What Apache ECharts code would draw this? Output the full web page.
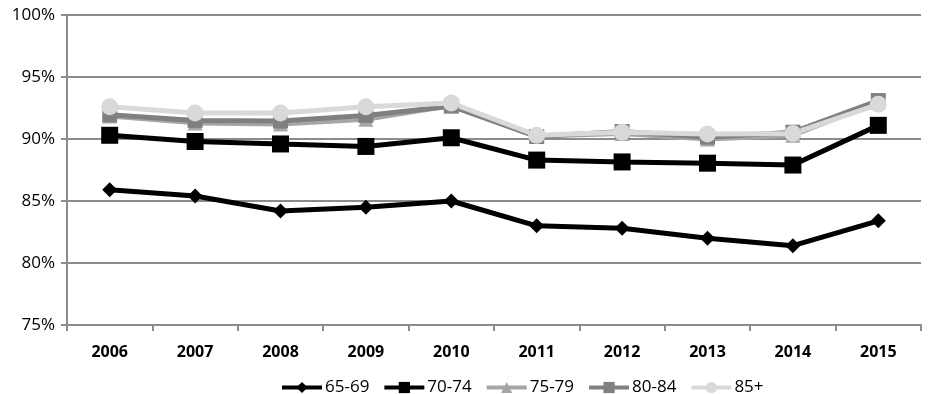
<!DOCTYPE html>
<html><head><meta charset="utf-8">
<script src="https://cdn.jsdelivr.net/npm/echarts@6/dist/echarts.min.js"></script>
<style>html,body{margin:0;padding:0;background:#fff}#c{width:942px;height:394px}</style>
</head><body><div id="c"></div>
<script>
const years = ['2006','2007','2008','2009','2010','2011','2012','2013','2014','2015'];
const yTicks = [75, 80, 85, 90, 95, 100];
const s6569 = [85.9, 85.4, 84.2, 84.5, 85.0, 83.0, 82.8, 82.0, 81.4, 83.4];
const s7074 = [90.3, 89.8, 89.6, 89.4, 90.1, 88.3, 88.15, 88.05, 87.9, 91.1];
const s7579 = [91.85, 91.3, 91.2, 91.6, 92.7, 90.25, 90.45, 90.0, 90.3, 93.0];
const s8084 = [91.95, 91.5, 91.45, 91.9, 92.65, 90.2, 90.6, 90.15, 90.55, 93.1];
const s85 = [92.6, 92.1, 92.1, 92.6, 92.9, 90.3, 90.55, 90.4, 90.45, 92.8];
const names = ['65-69','70-74','75-79','80-84','85+'];

const font = '"Open Sans", "Liberation Sans", sans-serif';
const chart = echarts.init(document.getElementById('c'));
function ser(name, data, color, symbol, size) {
  return {name, type:'line', data, symbol, symbolSize:size,
    lineStyle:{color, width:5}, itemStyle:{color, borderWidth:0}, z: 2,
    emphasis:{disabled:true}};
}
chart.setOption({
  animation:false,
  grid:{left:67, right:21, top:15, bottom:69},
  legend:{top:374, left:275, itemWidth:40, itemHeight:14, itemGap:13,
    lineStyle:{width:4},
    textStyle:{fontFamily:font, fontSize:17, color:'#000', padding:[0,0,0,-2]}},
  xAxis:{type:'category', data:years, boundaryGap:true,
    axisLine:{lineStyle:{color:'#8c8c8c', width:2}},
    axisTick:{show:true, length:6, lineStyle:{color:'#8c8c8c', width:2}},
    axisLabel:{fontFamily:font, fontWeight:'bold', fontSize:16, color:'#000', margin:19}},
  yAxis:{type:'value', min:75, max:100, interval:5,
    axisLine:{show:true, lineStyle:{color:'#8c8c8c', width:2}},
    axisTick:{show:true, length:6, lineStyle:{color:'#8c8c8c', width:2}},
    splitLine:{lineStyle:{color:'#8c8c8c', width:2}},
    axisLabel:{fontFamily:font, fontSize:17, color:'#000', margin:12,
      formatter:v=> yTicks.includes(v) ? v+'%' : ''}},
  series:[
    ser(names[0], s6569, '#000000', 'diamond', 15),
    ser(names[1], s7074, '#000000', 'rect', 17),
    ser(names[2], s7579, '#a6a6a6', 'triangle', 15),
    ser(names[3], s8084, '#808080', 'rect', 15),
    ser(names[4], s85, '#d9d9d9', 'circle', 17)
  ]
});
</script></body></html>
